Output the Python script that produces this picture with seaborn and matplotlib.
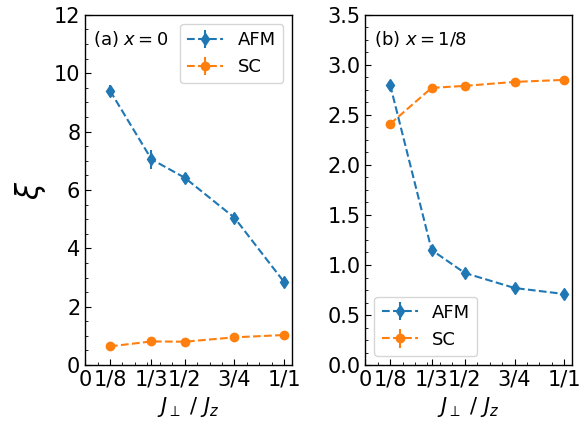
import matplotlib
matplotlib.use("Agg")
import matplotlib.pyplot as plt
from matplotlib.ticker import MultipleLocator
import numpy as np
import seaborn as sns

# x positions (J_perp / J_z)
jr = [1/8, 1/3, 1/2, 3/4, 1.0]
xtick_pos = [0, 1/8, 1/3, 1/2, 3/4, 1.0]
xtick_labels = ["0", "1/8", "1/3", "1/2", "3/4", "1/1"]

# panel (a) x = 0
afm_a = [9.40, 7.05, 6.42, 5.05, 2.84]
afm_a_err = [0.20, 0.32, 0.12, 0.12, 0.12]
sc_a = [0.64, 0.81, 0.80, 0.95, 1.03]
sc_a_err = [0.04, 0.04, 0.04, 0.04, 0.04]

# panel (b) x = 1/8
afm_b = [2.80, 1.15, 0.92, 0.77, 0.71]
afm_b_err = [0.04, 0.04, 0.03, 0.03, 0.03]
sc_b = [2.41, 2.77, 2.79, 2.83, 2.85]
sc_b_err = [0.01, 0.01, 0.01, 0.01, 0.01]

sns.set_style("white")
plt.rcParams["font.family"] = ["DejaVu Sans"]
for key in ["text.color", "axes.labelcolor", "xtick.color", "ytick.color", "axes.edgecolor"]:
    plt.rcParams[key] = "black"
pal = sns.color_palette("tab10")

fig, axes = plt.subplots(1, 2, figsize=(5.87, 4.24), dpi=100)
fig.subplots_adjust(left=0.145, right=0.975, top=0.965, bottom=0.139, wspace=0.353)

panels = [
    (axes[0], afm_a, afm_a_err, sc_a, sc_a_err, "(a) $x=0$", (0, 12), 2, 0.5, "upper right"),
    (axes[1], afm_b, afm_b_err, sc_b, sc_b_err, "(b) $x=1/8$", (0, 3.5), 0.5, 0.125, "lower left"),
]

for ax, afm, afm_err, sc, sc_err, tag, ylim, ymaj, ymin, loc in panels:
    ax.errorbar(jr, afm, yerr=afm_err, fmt="d--", color=pal[0], markersize=6, label="AFM")
    ax.errorbar(jr, sc, yerr=sc_err, fmt="o--", color=pal[1], markersize=6, label="SC")
    ax.set_xlim(0, 1.04)
    ax.set_ylim(*ylim)
    ax.set_xticks(xtick_pos)
    ax.set_xticklabels(xtick_labels)
    ax.xaxis.set_minor_locator(MultipleLocator(1/16))
    ax.yaxis.set_major_locator(MultipleLocator(ymaj))
    ax.yaxis.set_minor_locator(MultipleLocator(ymin))
    ax.tick_params(which="both", direction="in", labelsize=15, bottom=True, left=True)
    ax.tick_params(which="major", length=4)
    ax.tick_params(which="minor", length=2)
    for s in ax.spines.values():
        s.set_color("black")
        s.set_linewidth(1.0)
    ax.set_xlabel(r"$J_{\perp}\ /\ J_z$", fontsize=15)
    ax.text(0.04, 0.93, tag, transform=ax.transAxes, fontsize=13, va="center")
    ax.legend(loc=loc, fontsize=13, handlelength=2.0)

axes[0].set_ylabel(r"$\xi$", fontsize=22)

fig.savefig("out.png", dpi=100)
